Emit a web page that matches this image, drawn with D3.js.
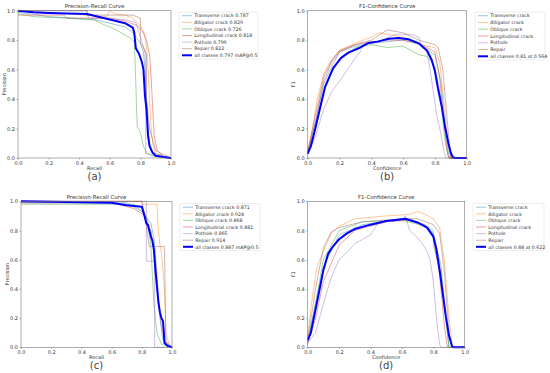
<!DOCTYPE html>
<html>
<head>
<meta charset="utf-8">
<script src="https://cdn.jsdelivr.net/npm/d3@7"></script>
<style>
  body { margin: 0; background: #fff; }
  svg { display: block; font-family: "DejaVu Sans", sans-serif; }
</style>
</head>
<body>
<svg id="chart" width="550" height="373"></svg>
<script>
// Class names and per-panel legend values
const classNames = ['Transverse crack', 'Alligator crack', 'Oblique crack', 'Longitudinal crack', 'Pothole', 'Repair'];
const apA = ['0.787', '0.829', '0.726', '0.818', '0.799', '0.822'];
const apC = ['0.871', '0.924', '0.868', '0.881', '0.865', '0.914'];
const allLabelA = 'all classes 0.797 mAP@0.5';
const allLabelB = 'all classes 0.81 at 0.564';
const allLabelC = 'all classes 0.887 mAP@0.5';
const allLabelD = 'all classes 0.88 at 0.622';
const tickVals = [0, 0.2, 0.4, 0.6, 0.8, 1.0];

// (a) precision-recall, [recall, precision]
const prA_transverse = [[0,0.99],[0.2,0.96],[0.5,0.94],[0.7,0.89],[0.75,0.85],[0.8,0.78],[0.82,0.72],[0.83,0.6],[0.84,0.4],[0.85,0.2],[0.86,0.1],[0.88,0.04],[0.95,0.01],[1,0]];
const prA_alligator = [[0,1],[0.3,0.98],[0.58,0.96],[0.6,1],[0.63,0.98],[0.7,0.97],[0.75,0.95],[0.8,0.9],[0.82,0.86],[0.83,0.82],[0.84,0.75],[0.85,0.6],[0.86,0.4],[0.87,0.2],[0.88,0.1],[0.9,0.03],[1,0]];
const prA_oblique = [[0,0.98],[0.1,0.96],[0.3,0.95],[0.5,0.937],[0.55,0.91],[0.6,0.89],[0.65,0.865],[0.7,0.835],[0.74,0.81],[0.76,0.79],[0.765,0.665],[0.77,0.51],[0.775,0.33],[0.78,0.21],[0.8,0.17],[0.82,0.08],[0.84,0.035],[0.9,0.01],[1,0]];
const prA_longitudinal = [[0,0.97],[0.3,0.97],[0.32,0.95],[0.6,0.95],[0.7,0.93],[0.78,0.9],[0.82,0.85],[0.84,0.8],[0.86,0.7],[0.87,0.55],[0.88,0.35],[0.89,0.15],[0.91,0.05],[0.95,0.01],[1,0]];
const prA_pothole = [[0,1],[0.45,1],[0.46,0.95],[0.7,0.94],[0.77,0.92],[0.8,0.82],[0.83,0.72],[0.835,0.6],[0.835,0.03],[0.9,0.01],[1,0]];
const prA_repair = [[0,1],[0.45,1],[0.45,0.97],[0.75,0.97],[0.8,0.95],[0.8,0.78],[0.82,0.75],[0.84,0.7],[0.84,0.4],[0.86,0.2],[0.9,0.05],[1,0]];
const prA_all = [[0,1],[0.1,0.99],[0.2,0.985],[0.45,0.977],[0.6,0.94],[0.7,0.915],[0.75,0.885],[0.76,0.85],[0.77,0.745],[0.79,0.71],[0.81,0.65],[0.82,0.6],[0.83,0.42],[0.84,0.33],[0.845,0.24],[0.85,0.15],[0.86,0.08],[0.88,0.035],[0.9,0.016],[0.95,0.007],[1,0]];

// (b) F1-confidence, [confidence, F1]
const f1B_transverse = [[0,0.03],[0.05,0.25],[0.1,0.52],[0.15,0.65],[0.2,0.72],[0.3,0.76],[0.4,0.78],[0.5,0.79],[0.6,0.8],[0.7,0.77],[0.8,0.7],[0.84,0.5],[0.87,0.15],[0.89,0],[1,0]];
const f1B_alligator = [[0,0.05],[0.03,0.2],[0.06,0.4],[0.1,0.57],[0.15,0.67],[0.2,0.73],[0.3,0.78],[0.4,0.82],[0.45,0.85],[0.5,0.84],[0.6,0.82],[0.7,0.77],[0.8,0.75],[0.83,0.65],[0.86,0.35],[0.88,0.1],[0.9,0],[1,0]];
const f1B_oblique = [[0,0.03],[0.05,0.2],[0.1,0.45],[0.15,0.58],[0.2,0.67],[0.3,0.75],[0.4,0.77],[0.5,0.75],[0.6,0.76],[0.7,0.7],[0.75,0.69],[0.8,0.62],[0.83,0.45],[0.86,0.15],[0.88,0.02],[0.89,0],[1,0]];
const f1B_longitudinal = [[0,0.04],[0.05,0.3],[0.1,0.55],[0.15,0.66],[0.2,0.73],[0.3,0.77],[0.4,0.79],[0.5,0.8],[0.6,0.8],[0.7,0.78],[0.8,0.72],[0.83,0.55],[0.86,0.2],[0.88,0.03],[0.89,0],[1,0]];
const f1B_pothole = [[0,0.03],[0.05,0.15],[0.1,0.33],[0.15,0.45],[0.2,0.52],[0.25,0.6],[0.3,0.68],[0.33,0.72],[0.35,0.77],[0.45,0.79],[0.55,0.84],[0.65,0.84],[0.7,0.82],[0.72,0.75],[0.75,0.72],[0.77,0.6],[0.79,0.45],[0.81,0.3],[0.84,0.15],[0.86,0.03],[0.87,0],[1,0]];
const f1B_repair = [[0,0.04],[0.05,0.25],[0.1,0.5],[0.15,0.62],[0.2,0.72],[0.3,0.77],[0.4,0.8],[0.5,0.87],[0.6,0.85],[0.7,0.8],[0.8,0.77],[0.82,0.75],[0.85,0.6],[0.87,0.35],[0.89,0.1],[0.9,0],[1,0]];
const f1B_all = [[0,0.03],[0.02,0.08],[0.05,0.21],[0.08,0.35],[0.11,0.485],[0.16,0.61],[0.21,0.68],[0.256,0.715],[0.32,0.745],[0.38,0.78],[0.44,0.79],[0.51,0.81],[0.57,0.815],[0.633,0.806],[0.696,0.78],[0.75,0.73],[0.78,0.665],[0.8,0.59],[0.82,0.47],[0.843,0.35],[0.864,0.21],[0.885,0.1],[0.9,0.034],[0.912,0.007],[0.925,0],[1,0]];

// (c) precision-recall
const prC_transverse = [[0,0.99],[0.7,0.99],[0.8,0.93],[0.86,0.85],[0.88,0.75],[0.9,0.5],[0.92,0.2],[0.94,0.05],[1,0]];
const prC_alligator = [[0,1],[0.8,1],[0.8,0.98],[0.9,0.98],[0.91,0.8],[0.92,0.7],[0.93,0.65],[0.95,0.4],[0.96,0.1],[0.98,0.02],[1,0]];
const prC_oblique = [[0,0.98],[0.75,0.98],[0.83,0.9],[0.86,0.7],[0.87,0.5],[0.88,0.3],[0.9,0.1],[0.93,0.02],[1,0]];
const prC_longitudinal = [[0,0.99],[0.6,0.99],[0.75,0.95],[0.82,0.9],[0.86,0.8],[0.89,0.6],[0.91,0.3],[0.93,0.15],[0.95,0.05],[1,0]];
const prC_pothole = [[0,1],[0.83,1],[0.83,0.59],[0.885,0.59],[0.885,0],[1,0]];
const prC_repair = [[0,1],[0.8,1],[0.82,0.9],[0.85,0.69],[0.95,0.69],[0.96,0.02],[1,0]];
const prC_all = [[0,1],[0.6,0.99],[0.7,0.973],[0.8,0.963],[0.81,0.93],[0.82,0.89],[0.83,0.85],[0.84,0.84],[0.85,0.8],[0.86,0.76],[0.87,0.73],[0.88,0.67],[0.89,0.53],[0.9,0.42],[0.91,0.31],[0.92,0.24],[0.93,0.2],[0.94,0.18],[0.945,0.12],[0.95,0.03],[0.97,0.01],[1,0]];

// (d) F1-confidence
const f1D_transverse = [[0,0.04],[0.05,0.3],[0.1,0.55],[0.2,0.77],[0.35,0.84],[0.6,0.88],[0.75,0.84],[0.8,0.78],[0.85,0.55],[0.88,0.2],[0.9,0],[1,0]];
const f1D_alligator = [[0,0.08],[0.03,0.35],[0.06,0.55],[0.1,0.66],[0.15,0.78],[0.2,0.83],[0.3,0.88],[0.5,0.9],[0.65,0.91],[0.7,0.93],[0.75,0.91],[0.8,0.88],[0.84,0.82],[0.87,0.6],[0.9,0.2],[0.92,0.02],[0.93,0],[1,0]];
const f1D_oblique = [[0,0.03],[0.05,0.3],[0.1,0.6],[0.2,0.8],[0.35,0.86],[0.6,0.87],[0.75,0.83],[0.8,0.8],[0.8,0.7],[0.85,0.5],[0.89,0.1],[0.9,0],[1,0]];
const f1D_longitudinal = [[0,0.02],[0.05,0.2],[0.1,0.45],[0.2,0.7],[0.3,0.8],[0.5,0.86],[0.65,0.87],[0.75,0.83],[0.8,0.75],[0.84,0.5],[0.87,0.15],[0.89,0],[1,0]];
const f1D_pothole = [[0,0.03],[0.05,0.1],[0.1,0.3],[0.15,0.48],[0.2,0.6],[0.25,0.65],[0.3,0.71],[0.35,0.74],[0.4,0.77],[0.45,0.85],[0.5,0.86],[0.6,0.87],[0.62,0.9],[0.65,0.8],[0.7,0.75],[0.75,0.68],[0.78,0.6],[0.8,0.45],[0.82,0.2],[0.84,0.02],[0.85,0],[1,0]];
const f1D_repair = [[0,0.05],[0.05,0.4],[0.1,0.68],[0.15,0.79],[0.2,0.82],[0.35,0.86],[0.6,0.88],[0.7,0.88],[0.8,0.84],[0.84,0.78],[0.87,0.52],[0.9,0.1],[0.92,0],[1,0]];
const f1D_all = [[0,0.05],[0.02,0.1],[0.05,0.26],[0.08,0.42],[0.1,0.53],[0.13,0.64],[0.16,0.69],[0.2,0.74],[0.25,0.78],[0.3,0.81],[0.4,0.84],[0.5,0.865],[0.6,0.877],[0.622,0.88],[0.7,0.855],[0.76,0.82],[0.8,0.76],[0.82,0.67],[0.84,0.53],[0.86,0.37],[0.88,0.21],[0.9,0.08],[0.92,0.005],[0.93,0],[1,0]];

const classColors = ['#1f77b4', '#ff7f0e', '#2ca02c', '#d62728', '#9467bd', '#8c564b'];

const svg = d3.select('#chart');

function drawPanel(p) {
  const x = d3.scaleLinear().domain([0, 1]).range([p.x0, p.x1]);
  const y = d3.scaleLinear().domain([0, 1]).range([p.y0, p.y1]);
  const g = svg.append('g');

  const line = d3.line().x(d => x(d[0])).y(d => y(d[1]));

  // class curves
  p.series.forEach((s, i) => {
    g.append('path')
      .attr('d', line(s))
      .attr('fill', 'none')
      .attr('stroke', classColors[i])
      .attr('stroke-opacity', 0.55)
      .attr('stroke-width', 0.8);
  });
  g.append('path')
    .attr('d', line(p.all))
    .attr('fill', 'none')
    .attr('stroke', '#0000ff')
    .attr('stroke-width', 2)
    .attr('stroke-linejoin', 'round');

  // axes
  const xa = g.append('g').attr('transform', `translate(0,${p.y0})`)
    .call(d3.axisBottom(x).tickValues(tickVals).tickFormat(d3.format('.1f')).tickSize(1.5).tickPadding(1.5));
  const ya = g.append('g').attr('transform', `translate(${p.x0},0)`)
    .call(d3.axisLeft(y).tickValues(tickVals).tickFormat(d3.format('.1f')).tickSize(1.5).tickPadding(1.5));
  [xa, ya].forEach(a => {
    a.select('.domain').remove();
    a.selectAll('line').attr('stroke', '#555').attr('stroke-width', 0.5);
    a.selectAll('text').attr('font-size', 5).attr('fill', '#333').attr('font-family', '"DejaVu Sans", sans-serif');
  });

  g.append('rect')
    .attr('x', p.x0).attr('y', p.y1)
    .attr('width', p.x1 - p.x0).attr('height', p.y0 - p.y1)
    .attr('fill', 'none').attr('stroke', '#777').attr('stroke-width', 0.6);

  // titles
  g.append('text').attr('x', (p.x0 + p.x1) / 2).attr('y', p.y1 - 2.5)
    .attr('text-anchor', 'middle').attr('font-size', 5.4).attr('fill', '#333').text(p.title);
  g.append('text').attr('x', (p.x0 + p.x1) / 2).attr('y', p.y0 + 12)
    .attr('text-anchor', 'middle').attr('font-size', 5).attr('fill', '#333').text(p.xlabel);
  g.append('text')
    .attr('transform', `translate(${p.x0 - 12.5},${(p.y0 + p.y1) / 2}) rotate(-90)`)
    .attr('text-anchor', 'middle').attr('font-size', 5).attr('fill', '#333').text(p.ylabel);
  g.append('text').attr('x', (p.x0 + p.x1) / 2).attr('y', p.y0 + 22)
    .attr('text-anchor', 'middle').attr('font-size', 10).attr('fill', '#444').text(p.tag);

  // legend
  const lb = p.legend;
  g.append('rect').attr('x', lb.x).attr('y', lb.y).attr('width', lb.w).attr('height', lb.h)
    .attr('rx', 1).attr('fill', '#fff').attr('stroke', '#d8d8d8').attr('stroke-width', 0.5);
  const labels = p.labels.concat([p.allLabel]);
  const step = (lb.h - 7.4) / 6;
  labels.forEach((t, i) => {
    const ly = lb.y + 3.7 + i * step;
    g.append('line').attr('x1', lb.x + 3).attr('x2', lb.x + 13).attr('y1', ly).attr('y2', ly)
      .attr('stroke', i < 6 ? classColors[i] : '#0000ff')
      .attr('stroke-opacity', i < 6 ? 0.55 : 1)
      .attr('stroke-width', i < 6 ? 0.8 : 2);
    g.append('text').attr('x', lb.x + 15.3).attr('y', ly + 1.7)
      .attr('font-size', 4.7).attr('fill', '#333').text(t);
  });
}

drawPanel({
  x0: 18, x1: 171, y0: 158, y1: 10.7,
  title: 'Precision-Recall Curve', xlabel: 'Recall', ylabel: 'Precision', tag: '(a)',
  series: [prA_transverse, prA_alligator, prA_oblique, prA_longitudinal, prA_pothole, prA_repair],
  all: prA_all,
  labels: classNames.map((c, i) => c + ' ' + apA[i]), allLabel: allLabelA,
  legend: { x: 179, y: 12, w: 79, h: 47 }
});
drawPanel({
  x0: 307.7, x1: 466.7, y0: 158, y1: 10.7,
  title: 'F1-Confidence Curve', xlabel: 'Confidence', ylabel: 'F1', tag: '(b)',
  series: [f1B_transverse, f1B_alligator, f1B_oblique, f1B_longitudinal, f1B_pothole, f1B_repair],
  all: f1B_all,
  labels: classNames, allLabel: allLabelB,
  legend: { x: 475, y: 12, w: 70, h: 48 }
});
drawPanel({
  x0: 21, x1: 172, y0: 347.3, y1: 201.3,
  title: 'Precision-Recall Curve', xlabel: 'Recall', ylabel: 'Precision', tag: '(c)',
  series: [prC_transverse, prC_alligator, prC_oblique, prC_longitudinal, prC_pothole, prC_repair],
  all: prC_all,
  labels: classNames.map((c, i) => c + ' ' + apC[i]), allLabel: allLabelC,
  legend: { x: 180, y: 203.5, w: 80, h: 47 }
});
drawPanel({
  x0: 307.7, x1: 464.7, y0: 347.3, y1: 201.3,
  title: 'F1-Confidence Curve', xlabel: 'Confidence', ylabel: 'F1', tag: '(d)',
  series: [f1D_transverse, f1D_alligator, f1D_oblique, f1D_longitudinal, f1D_pothole, f1D_repair],
  all: f1D_all,
  labels: classNames, allLabel: allLabelD,
  legend: { x: 473, y: 203.5, w: 71, h: 47 }
});
</script>
</body>
</html>
